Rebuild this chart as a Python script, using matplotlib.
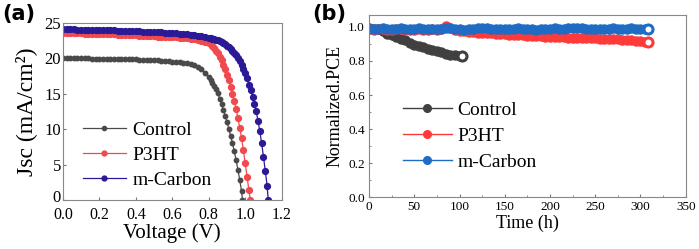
import matplotlib.pyplot as plt
import matplotlib.transforms as mtransforms

# ---- (a) J-V curves ----
# voltage grid (V): 0.00-0.80 every 0.02, then every 0.01
voltage = [0.00, 0.02, 0.04, 0.06, 0.08, 0.10, 0.12, 0.14, 0.16, 0.18,
           0.20, 0.22, 0.24, 0.26, 0.28, 0.30, 0.32, 0.34, 0.36, 0.38,
           0.40, 0.42, 0.44, 0.46, 0.48, 0.50, 0.52, 0.54, 0.56, 0.58,
           0.60, 0.62, 0.64, 0.66, 0.68, 0.70, 0.72, 0.74, 0.76, 0.78,
           0.80, 0.81, 0.82, 0.83, 0.84, 0.85, 0.86, 0.87, 0.88, 0.89,
           0.90, 0.91, 0.92, 0.93, 0.94, 0.95, 0.96, 0.97, 0.98, 0.99,
           1.00, 1.01, 1.02, 1.03, 1.04, 1.05, 1.06, 1.07, 1.08, 1.09,
           1.10, 1.11, 1.12]

jsc_control = [20.00, 20.00, 20.00, 19.99, 19.99, 19.99, 19.98, 19.98, 19.97, 19.97,
               19.96, 19.95, 19.94, 19.93, 19.92, 19.91, 19.90, 19.88, 19.87, 19.85,
               19.84, 19.82, 19.80, 19.78, 19.76, 19.74, 19.71, 19.68, 19.64, 19.60,
               19.55, 19.50, 19.45, 19.38, 19.30, 19.20, 19.05, 18.80, 18.45, 17.95,
               17.30, 16.95, 16.55, 16.10, 15.60, 15.05, 14.30, 13.55, 12.75, 11.90,
               11.00, 10.05, 9.05, 8.00, 6.85, 5.60, 4.25, 2.80, 1.20]

jsc_p3ht = [23.60, 23.58, 23.57, 23.55, 23.54, 23.52, 23.50, 23.49, 23.47, 23.46,
            23.44, 23.42, 23.41, 23.39, 23.37, 23.35, 23.33, 23.31, 23.29, 23.27,
            23.25, 23.22, 23.20, 23.17, 23.14, 23.11, 23.08, 23.06, 23.04, 23.02,
            23.00, 22.96, 22.92, 22.87, 22.82, 22.76, 22.69, 22.60, 22.50, 22.37,
            22.20, 22.00, 21.75, 21.45, 21.10, 20.70, 20.25, 19.70, 19.10, 18.45,
            17.70, 16.90, 16.00, 15.00, 13.95, 12.80, 11.55, 10.20, 8.70, 7.00,
            5.20, 3.30, 1.40]

jsc_mcarbon = [24.10, 24.09, 24.08, 24.07, 24.06, 24.05, 24.04, 24.02, 24.01, 24.00,
               23.98, 23.97, 23.96, 23.94, 23.93, 23.91, 23.90, 23.88, 23.86, 23.84,
               23.82, 23.80, 23.78, 23.76, 23.74, 23.72, 23.69, 23.66, 23.63, 23.60,
               23.56, 23.52, 23.48, 23.43, 23.38, 23.32, 23.26, 23.19, 23.11, 23.02,
               22.92, 22.86, 22.79, 22.71, 22.62, 22.52, 22.41, 22.28, 22.14, 21.98,
               21.80, 21.60, 21.37, 21.10, 20.80, 20.46, 20.08, 19.60, 19.10, 18.55,
               17.95, 17.20, 16.30, 15.50, 14.60, 13.60, 12.50, 11.20, 9.70, 8.00,
               6.10, 4.10, 2.00]

voc = [0.985, 1.028, 1.126]   # where each curve meets J = 0

# ---- (b) stability ----
t_control = [0, 5, 10, 15, 20, 25, 30, 35, 40, 45, 50, 55, 60, 65, 70, 75,
             80, 85, 90, 95, 100, 103]
pce_control = [0.995, 0.990, 0.985, 0.975, 0.960, 0.950, 0.940, 0.930, 0.920, 0.905,
               0.895, 0.885, 0.880, 0.870, 0.862, 0.857, 0.850, 0.843, 0.837, 0.833,
               0.830, 0.828]

t_long = [0, 5, 10, 15, 20, 25, 30, 35, 40, 45,
          50, 55, 60, 65, 70, 75, 80, 85, 90, 95,
          100, 105, 110, 115, 120, 125, 130, 135, 140, 145,
          150, 155, 160, 165, 170, 175, 180, 185, 190, 195,
          200, 205, 210, 215, 220, 225, 230, 235, 240, 245,
          250, 255, 260, 265, 270, 275, 280, 285, 290, 295,
          300, 305, 308]
pce_p3ht = [0.985, 0.984, 0.986, 0.985, 0.983, 0.984, 0.986, 0.985, 0.984, 0.983,
            0.984, 0.985, 0.983, 0.984, 0.985, 0.984, 0.986, 1.005, 0.995, 0.983,
            0.978, 0.973, 0.970, 0.968, 0.966, 0.965, 0.963, 0.962, 0.960, 0.958,
            0.957, 0.955, 0.953, 0.952, 0.950, 0.948, 0.947, 0.946, 0.945, 0.943,
            0.942, 0.940, 0.939, 0.938, 0.937, 0.936, 0.935, 0.935, 0.934, 0.933,
            0.932, 0.931, 0.930, 0.930, 0.929, 0.927, 0.925, 0.923, 0.920, 0.917,
            0.915, 0.912, 0.910]
pce_mcarbon = [0.990, 0.988, 0.990, 0.992, 0.989, 0.987, 0.990, 0.991, 0.988, 0.986,
               0.990, 0.993, 0.990, 0.988, 0.985, 0.987, 0.990, 0.992, 0.991, 0.988,
               0.986, 0.984, 0.987, 0.990, 0.993, 0.995, 0.992, 0.989, 0.987, 0.985,
               0.986, 0.988, 0.990, 0.991, 0.989, 0.987, 0.985, 0.984, 0.986, 0.988,
               0.990, 0.991, 0.990, 0.988, 0.992, 0.995, 0.996, 0.993, 0.990, 0.987,
               0.985, 0.986, 0.988, 0.990, 0.991, 0.990, 0.989, 0.990, 0.991, 0.990,
               0.989, 0.990, 0.990]

labels = ['Control', 'P3HT', 'm-Carbon']

plt.rcParams['font.family'] = ['Liberation Serif', 'DejaVu Serif']
plt.rcParams['xtick.direction'] = 'in'
plt.rcParams['ytick.direction'] = 'in'

fig = plt.figure(figsize=(6.99, 2.49), dpi=100)
ax1 = fig.add_axes([0.090, 0.197, 0.313, 0.711])
ax2 = fig.add_axes([0.528, 0.208, 0.453, 0.732])

# panel a
cols_a = ['#4a4a4a', '#f04a4f', '#2a1a95']
sizes_a = [3.2, 4.2, 4.2]
for jv, c, ms, vo, lab in zip([jsc_control, jsc_p3ht, jsc_mcarbon], cols_a, sizes_a, voc, labels):
    vx = voltage[:len(jv)] + [vo]
    jy = jv + [0.0]
    ax1.plot(vx, jy, '-o', color=c, ms=ms, lw=0.9, label=lab)

ax1.set_xlim(0, 1.2)
ax1.set_ylim(0, 25)
ax1.set_xticks([0.0, 0.2, 0.4, 0.6, 0.8, 1.0, 1.2])
ax1.set_xticklabels(['0.0', '0.2', '0.4', '0.6', '0.8', '1.0', '1.2'])
ax1.set_yticks([0, 5, 10, 15, 20, 25])
ax1.tick_params(axis='x', labelsize=11.5, length=2.5, color='#777777', pad=5)
ax1.tick_params(axis='y', labelsize=12, length=2.5, color='#777777', pad=1.5)
# lift the y "0" a little so it does not sit on the x "0.0"
lab0 = ax1.get_yticklabels()[0]
lab0.set_transform(lab0.get_transform() + mtransforms.ScaledTranslation(0, 3 / 72, fig.dpi_scale_trans))
ax1.set_xlabel('Voltage (V)', fontsize=15, labelpad=0)
ax1.set_ylabel('Jsc (mA/cm²)', fontsize=17, labelpad=5)
leg1 = ax1.legend(loc='upper left', bbox_to_anchor=(0.09, 0.446), frameon=False, fontsize=14,
                  handlelength=2.25, handletextpad=0.3, labelspacing=0.38, numpoints=1,
                  borderpad=0, borderaxespad=0)
for h, ms in zip(leg1.legend_handles, [3.0, 3.5, 3.5]):
    h.set_markersize(ms)

# panel b
cols_b = ['#404040', '#ff3a3a', '#1f6cc4']
for tt, pp, c, lab in zip([t_control, t_long, t_long], [pce_control, pce_p3ht, pce_mcarbon],
                          cols_b, labels):
    ax2.plot(tt, pp, '-o', color=c, ms=6.5, lw=1, label=lab)
    # last point drawn as a ring
    ax2.plot(tt[-1], pp[-1], 'o', mfc='white', mec=c, ms=6.5, mew=2.2)

ax2.set_xlim(0, 350)
ax2.set_ylim(0, 1.07)
ax2.set_xticks([0, 50, 100, 150, 200, 250, 300, 350])
ax2.set_yticks([0.0, 0.2, 0.4, 0.6, 0.8, 1.0])
ax2.set_yticklabels(['0.0', '0.2', '0.4', '0.6', '0.8', '1.0'])
ax2.set_xticks([25, 75, 125, 175, 225, 275, 325], minor=True)
ax2.set_yticks([0.1, 0.3, 0.5, 0.7, 0.9], minor=True)
ax2.tick_params(labelsize=9.5, length=2.5, color='#777777', pad=3)
ax2.tick_params(which='minor', length=1.5, color='#777777')
ax2.set_xlabel('Time (h)', fontsize=13, labelpad=1)
ax2.set_ylabel('Normalized.PCE', fontsize=13, labelpad=3)
leg2 = ax2.legend(loc='upper left', bbox_to_anchor=(0.107, 0.528), frameon=False, fontsize=14,
                  handlelength=2.5, handletextpad=0.3, labelspacing=0.43, numpoints=1,
                  borderpad=0, borderaxespad=0)
for h in leg2.legend_handles:
    h.set_markersize(5.5)

for ax in (ax1, ax2):
    for s in ax.spines.values():
        s.set_color('#888888')
        s.set_linewidth(0.8)

fig.text(0.003, 0.985, '(a)', family='DejaVu Sans', fontsize=15, va='top', weight='bold')
fig.text(0.447, 0.985, '(b)', family='DejaVu Sans', fontsize=15, va='top', weight='bold')

fig.savefig('out.png', dpi=100)
